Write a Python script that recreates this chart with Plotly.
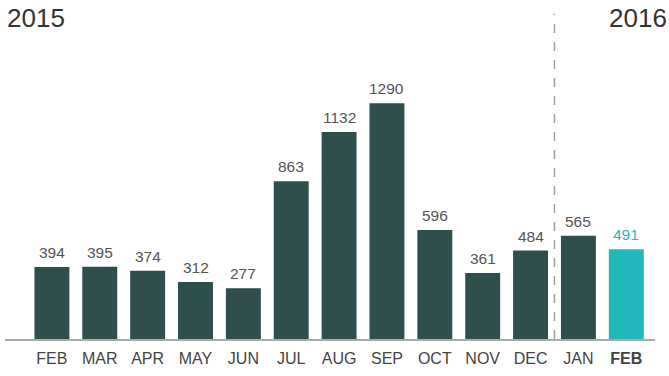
import plotly.graph_objects as go

months = ["FEB", "MAR", "APR", "MAY", "JUN", "JUL", "AUG", "SEP", "OCT", "NOV", "DEC", "JAN", "FEB"]
values = [394, 395, 374, 312, 277, 863, 1132, 1290, 596, 361, 484, 565, 491]
years = ["2015", "2016"]

dark = "#2F4F4D"
teal = "#22B8BB"
colors = [dark] * (len(values) - 1) + [teal]
text_colors = ["#555555"] * (len(values) - 1) + [teal]

x = list(range(len(values)))
ticktext = months[:-1] + ["<b>" + months[-1] + "</b>"]
FONT = "Liberation Sans, Arial, sans-serif"

fig = go.Figure()
fig.add_trace(go.Bar(
    x=x, y=values, marker=dict(color=colors, line=dict(width=0)),
    width=0.73, hoverinfo="skip",
))

for xi, v, c in zip(x, values, text_colors):
    fig.add_annotation(x=xi, y=v, text=str(v), showarrow=False, xanchor="center", yanchor="bottom",
                       yshift=4, font=dict(family=FONT, size=15.5, color=c))

fig.add_shape(type="line", xref="x", yref="y", x0=10.5, x1=10.5, y0=0, y1=1780,
              line=dict(color="#A0A0A0", width=1.5, dash="dash"))

fig.add_annotation(text=years[0], xref="paper", yref="paper", x=0, y=1.0, xanchor="left", yanchor="middle",
                   showarrow=False, font=dict(family=FONT, size=26, color="#333333"),
                   yshift=-8)
fig.add_annotation(text=years[1], x=1.0, xref="paper", yref="paper", y=1.0, xanchor="right", yanchor="middle",
                   showarrow=False, font=dict(family=FONT, size=26, color="#333333"),
                   xshift=14, yshift=-8)

fig.update_layout(
    width=669, height=376,
    margin=dict(l=5, r=14, t=10, b=37),
    paper_bgcolor="white", plot_bgcolor="white",
    showlegend=False,
    xaxis=dict(range=[-0.98, 12.6], tickvals=x, ticktext=ticktext, showgrid=False, zeroline=False,
               showline=True, linecolor="#AAAAAA", linewidth=1.5, ticks="", ticklabelstandoff=4,
               tickfont=dict(family=FONT, size=16, color="#444444")),
    yaxis=dict(range=[0, 1800], visible=False, showgrid=False, zeroline=False),
)

fig.write_html("out.html", config={"displayModeBar": False},
               post_script="document.body.style.margin='0';")
